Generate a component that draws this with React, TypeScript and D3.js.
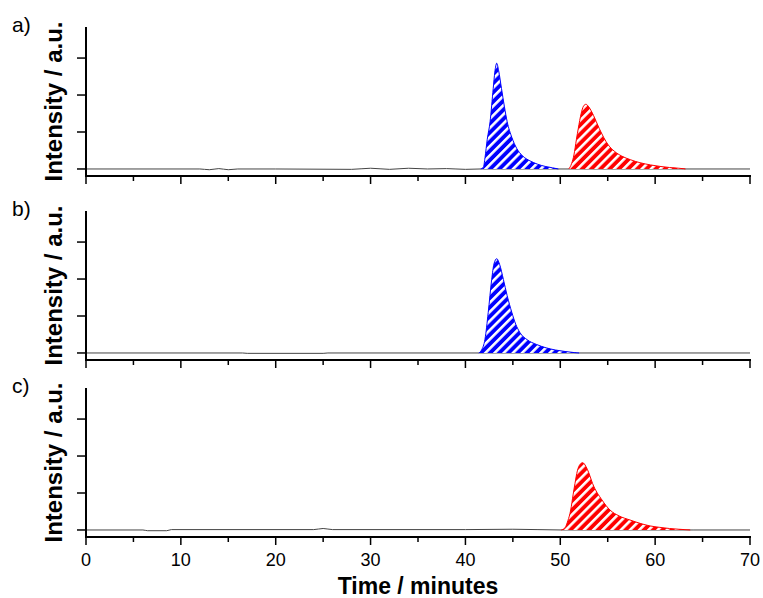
import React from "react";
import * as d3 from "d3";

// time axis (minutes) and intensity ticks
const timeTicks = [0, 10, 20, 30, 40, 50, 60, 70];
const minorTimeTicks = [5, 15, 25, 35, 45, 55, 65];
const intensityTicks = [0, 1, 2, 3];
const panelLabels = ["a)", "b)", "c)"];

// peaks: [time, intensity]
const bluePeakA: [number, number][] = [
  [41.6, 0], [41.9, 0.05], [42.06, 0.3], [42.3, 0.8], [42.6, 1.28], [42.93, 2.18],
  [43.1, 2.62], [43.3, 2.86], [43.5, 2.66], [43.8, 2.18], [44.1, 1.7], [44.4, 1.28],
  [44.9, 0.85], [45.4, 0.56], [46.0, 0.36], [46.8, 0.22], [47.6, 0.13], [48.4, 0.07],
  [49.2, 0.03], [49.8, 0],
];
const redPeakA: [number, number][] = [
  [50.9, 0], [51.2, 0.15], [51.44, 0.38], [51.7, 0.8], [51.9, 1.1], [52.2, 1.5],
  [52.45, 1.7], [52.71, 1.75], [53.0, 1.68], [53.5, 1.45], [54.1, 1.1], [55.06, 0.65],
  [55.7, 0.48], [56.47, 0.35], [57.4, 0.25], [58.4, 0.17], [59.5, 0.11], [60.5, 0.07],
  [61.5, 0.04], [62.5, 0.02], [63.2, 0],
];
const bluePeakB: [number, number][] = [
  [41.4, 0], [41.7, 0.08], [42.06, 0.37], [42.4, 1.09], [42.77, 1.99], [43.0, 2.4],
  [43.3, 2.55], [43.6, 2.4], [44.0, 1.99], [44.4, 1.55], [44.9, 1.09], [45.3, 0.78],
  [45.75, 0.55], [46.5, 0.36], [47.5, 0.23], [48.5, 0.14], [49.5, 0.08], [50.5, 0.04],
  [51.5, 0.01], [52.0, 0],
];
const redPeakC: [number, number][] = [
  [50.1, 0], [50.5, 0.06], [50.8, 0.25], [51.1, 0.54], [51.35, 0.95], [51.55, 1.26],
  [51.8, 1.6], [52.1, 1.78], [52.36, 1.82], [52.7, 1.72], [53.0, 1.55], [53.4, 1.26],
  [54.4, 0.81], [55.24, 0.54], [56.2, 0.38], [57.35, 0.27], [58.4, 0.18], [59.46, 0.11],
  [60.5, 0.07], [61.5, 0.04], [62.5, 0.02], [63.7, 0],
];

// noisy baselines
const baselineA: [number, number][] = [
  [0, 0], [12, 0], [13, -0.02], [14, 0.01], [15, -0.02], [16, 0], [20, 0], [28, -0.01],
  [30, 0.02], [32, -0.01], [34, 0.02], [36, 0], [38, 0.01], [40, -0.01], [41.6, 0],
  [63, 0], [70, 0],
];
const baselineB: [number, number][] = [
  [0, 0], [16.5, 0], [17, -0.01], [25, -0.01], [25.5, 0], [41.4, 0], [52, 0], [70, 0],
];
const baselineC: [number, number][] = [
  [0, 0], [6, 0], [6.5, -0.02], [8.5, -0.02], [9, 0.01], [24, 0.01], [25, 0.04], [26, 0.01],
  [40, 0.01], [45, 0.02], [50.1, 0], [64, 0], [70, 0],
];

const W = 763;
const H = 598;
const left = 86;
const right = 750;
const panelBottoms = [176, 360, 537];
const panelH = 149;
const font = "'Liberation Sans', Arial, sans-serif";

const x = d3.scaleLinear().domain([0, 70]).range([left, right]);

type Peak = { data: [number, number][]; fill: string; stroke: string };

const panels: { baseline: [number, number][]; peaks: Peak[] }[] = [
  {
    baseline: baselineA,
    peaks: [
      { data: bluePeakA, fill: "url(#hatchBlue)", stroke: "#0000ff" },
      { data: redPeakA, fill: "url(#hatchRed)", stroke: "#ff0000" },
    ],
  },
  { baseline: baselineB, peaks: [{ data: bluePeakB, fill: "url(#hatchBlue)", stroke: "#0000ff" }] },
  { baseline: baselineC, peaks: [{ data: redPeakC, fill: "url(#hatchRed)", stroke: "#ff0000" }] },
];

function Panel({ idx }: { idx: number }) {
  const bottom = panelBottoms[idx];
  const y = d3.scaleLinear().domain([-0.19, 3.84]).range([bottom, bottom - panelH]);
  const p = panels[idx];
  const line = d3.line<[number, number]>().x((d) => x(d[0])).y((d) => y(d[1])).curve(d3.curveMonotoneX);
  const area = d3
    .area<[number, number]>()
    .x((d) => x(d[0]))
    .y0(y(0))
    .y1((d) => y(d[1]))
    .curve(d3.curveMonotoneX);
  const top = bottom - panelH;
  return (
    <g>
      <path d={line(p.baseline) || ""} fill="none" stroke="#444" strokeWidth={1} />
      {p.peaks.map((pk, i) => (
        <g key={i}>
          <path d={area(pk.data) || ""} fill={pk.fill} />
          <path d={line(pk.data) || ""} fill="none" stroke={pk.stroke} strokeWidth={1} />
        </g>
      ))}
      {/* y axis */}
      <line x1={left} x2={left} y1={top} y2={bottom} stroke="#000" strokeWidth={2} />
      {intensityTicks.map((t) => (
        <line key={t} x1={left - 9} x2={left} y1={y(t)} y2={y(t)} stroke="#000" strokeWidth={1.5} />
      ))}
      {/* x axis */}
      <line x1={left - 1} x2={right + 1} y1={bottom} y2={bottom} stroke="#000" strokeWidth={2} />
      {timeTicks.map((t) => (
        <line key={t} x1={x(t)} x2={x(t)} y1={bottom} y2={bottom + 8} stroke="#000" strokeWidth={1.5} />
      ))}
      {minorTimeTicks.map((t) => (
        <line key={t} x1={x(t)} x2={x(t)} y1={bottom} y2={bottom + 5} stroke="#000" strokeWidth={1.5} />
      ))}
      {idx === 2 &&
        timeTicks.map((t) => (
          <text key={t} x={x(t)} y={bottom + 29} textAnchor="middle" fontSize={18} fontFamily={font} fill="#000">
            {t}
          </text>
        ))}
      <text
        transform={`translate(62, ${(top + bottom) / 2}) rotate(-90)`}
        textAnchor="middle"
        fontSize={24}
        fontWeight="bold"
        fontFamily={font}
        fill="#000"
      >
        Intensity / a.u.
      </text>
      <text x={12} y={top + 5} fontSize={21} fontFamily={font} fill="#000">
        {panelLabels[idx]}
      </text>
    </g>
  );
}

export default function App() {
  return (
    <svg
      width={W}
      height={H}
      viewBox={`0 0 ${W} ${H}`}
      style={{ position: "absolute", left: 0, top: 0, background: "#fff" }}
    >
      <defs>
        <pattern id="hatchBlue" patternUnits="userSpaceOnUse" width={6.5} height={10} patternTransform="rotate(45)">
          <rect width={6.5} height={10} fill="#0000ff" />
          <rect x={0} width={2.6} height={10} fill="#fff" />
        </pattern>
        <pattern id="hatchRed" patternUnits="userSpaceOnUse" width={6.5} height={10} patternTransform="rotate(45)">
          <rect width={6.5} height={10} fill="#ff0000" />
          <rect x={0} width={2.6} height={10} fill="#fff" />
        </pattern>
      </defs>
      <rect width={W} height={H} fill="#fff" />
      {panels.map((_, i) => (
        <Panel key={i} idx={i} />
      ))}
      <text x={x(35)} y={594} textAnchor="middle" fontSize={23} fontWeight="bold" fontFamily={font} fill="#000">
        Time / minutes
      </text>
    </svg>
  );
}
